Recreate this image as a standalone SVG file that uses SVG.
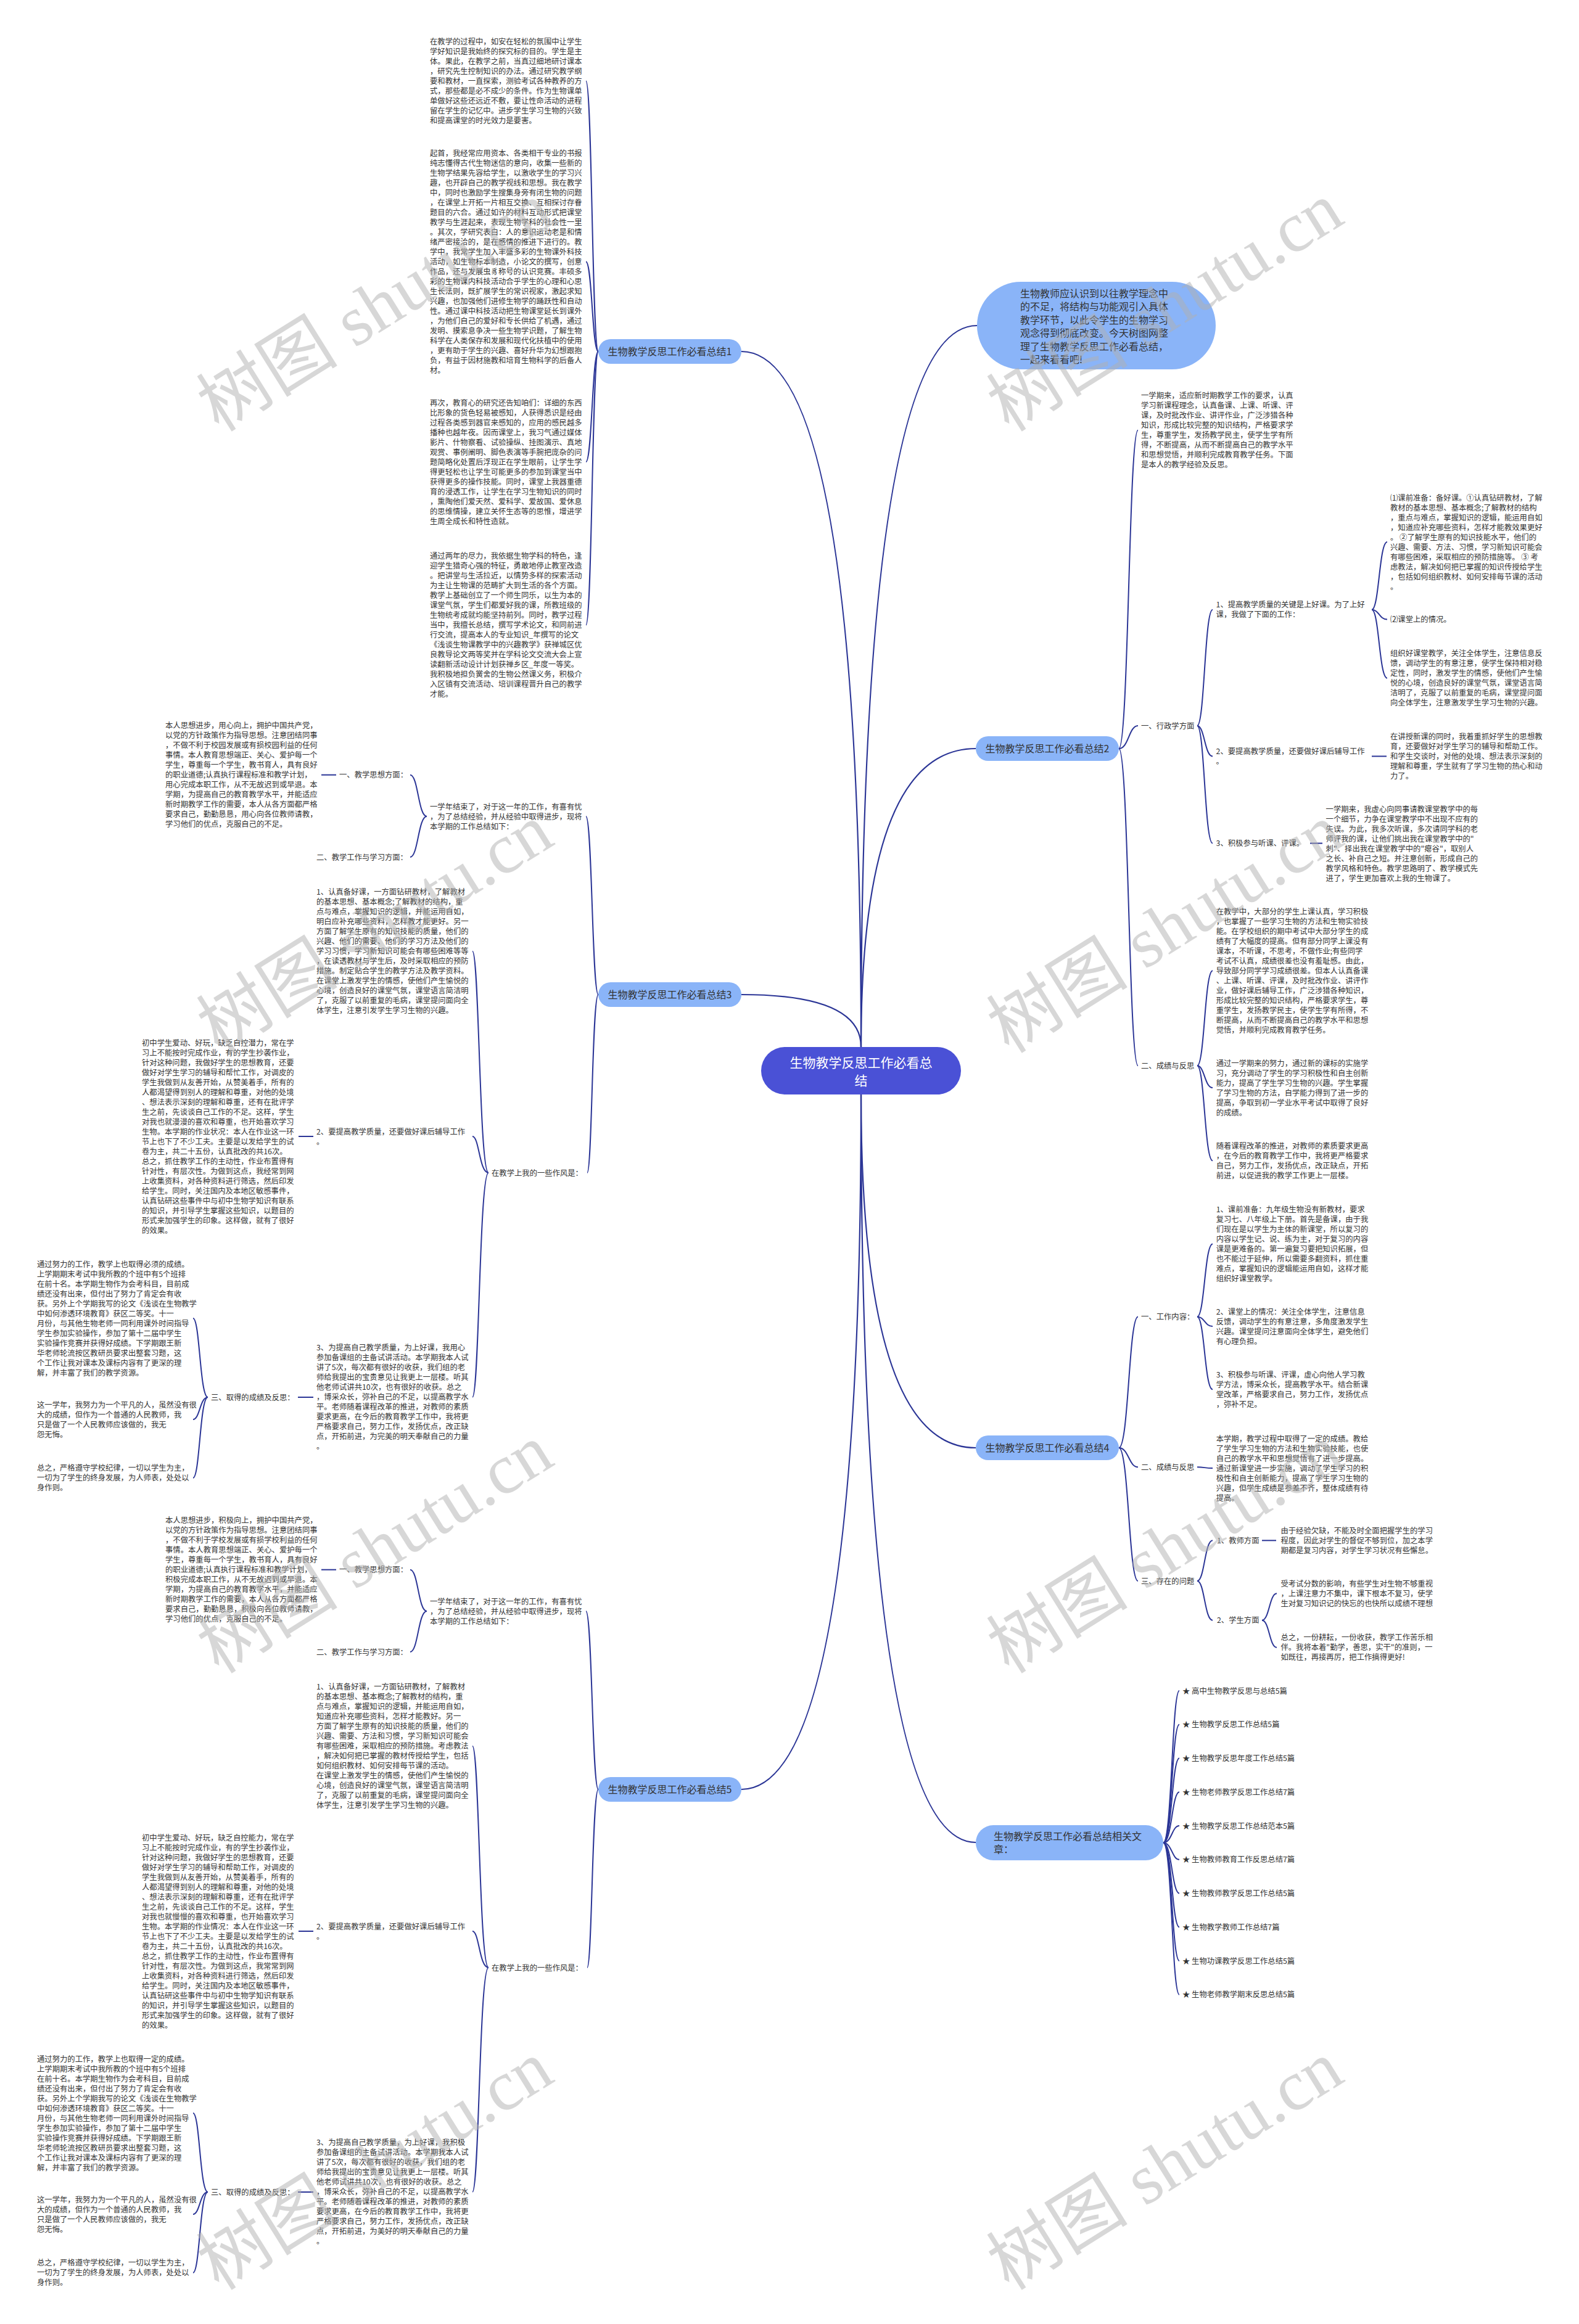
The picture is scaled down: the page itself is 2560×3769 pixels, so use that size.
<svg xmlns="http://www.w3.org/2000/svg" width="2560" height="3769" viewBox="0 0 2560 3769">
<style>
.t{font-family:"Noto Sans CJK SC","Liberation Sans",sans-serif;font-size:12.33px;fill:#333}
.c{fill:none;stroke:#2b3596;stroke-width:2}
.cm{fill:none;stroke:#2b3596;stroke-width:2.2}
.bn{fill:#8ab4f8}
.bt{font-family:"Noto Sans CJK SC","Liberation Sans",sans-serif;font-size:16px;fill:#333}
.ct{font-family:"Noto Sans CJK SC","Liberation Sans",sans-serif;font-size:21px;fill:#fff}
.wm{font-family:"Liberation Serif","Noto Sans CJK SC",serif;font-size:115px;fill:#b0b0b0;fill-opacity:0.5}
</style>
<rect width="2560" height="3769" fill="#fff"/>
<g id="connectors">
<path class="cm" d="M1396,1698 Q1396,570 1202,570"/>
<path class="cm" d="M1396,1698 Q1396,1613 1202,1613"/>
<path class="cm" d="M1396,1698 Q1396,528 1584,528"/>
<path class="cm" d="M1396,1698 Q1396,1214 1582,1214"/>
<path class="cm" d="M1396,1775 Q1396,2348 1582,2348"/>
<path class="cm" d="M1396,1775 Q1396,2902 1202,2902"/>
<path class="cm" d="M1396,1775 Q1396,2988 1582,2988"/>
<path class="c" d="M970,570 C960,570 960,131.5 950,131.5"/>
<path class="c" d="M970,570 C960,570 960,424.5 950,424.5"/>
<path class="c" d="M970,570 C960,570 960,749 950,749"/>
<path class="c" d="M970,570 C960,570 960,1013.4 950,1013.4"/>
<g id="c-b3">
<path class="c" d="M970,1613 C960,1613 960,1324 950,1324"/>
<path class="c" d="M970,1613 C960,1613 960,1902 952,1902"/>
<path class="c" d="M692,1324 C678,1324 678,1256.7 665,1256.7"/>
<path class="c" d="M692,1324 C678,1324 678,1390 665,1390"/>
<path class="c" d="M545,1256.7 L521,1256.7"/>
<path class="c" d="M792,1902 C777,1902 777,1542.7 766,1542.7"/>
<path class="c" d="M792,1902 C777,1902 777,1843 766,1843"/>
<path class="c" d="M792,1902 C777,1902 777,2265.7 766,2265.7"/>
<path class="c" d="M508,1843 L484,1843"/>
<path class="c" d="M508,2266 L483,2266"/>
<path class="c" d="M337,2266 C324,2266 324,2138 313,2138"/>
<path class="c" d="M337,2266 C324,2266 324,2302 313,2302"/>
<path class="c" d="M337,2266 C324,2266 324,2396.7 313,2396.7"/>
</g>
<g id="c-b5" transform="translate(0,1289)">
<path class="c" d="M970,1613 C960,1613 960,1324 950,1324"/>
<path class="c" d="M970,1613 C960,1613 960,1902 952,1902"/>
<path class="c" d="M692,1324 C678,1324 678,1256.7 665,1256.7"/>
<path class="c" d="M692,1324 C678,1324 678,1390 665,1390"/>
<path class="c" d="M545,1256.7 L521,1256.7"/>
<path class="c" d="M792,1902 C777,1902 777,1542.7 766,1542.7"/>
<path class="c" d="M792,1902 C777,1902 777,1843 766,1843"/>
<path class="c" d="M792,1902 C777,1902 777,2265.7 766,2265.7"/>
<path class="c" d="M508,1843 L484,1843"/>
<path class="c" d="M508,2266 L483,2266"/>
<path class="c" d="M337,2266 C324,2266 324,2138 313,2138"/>
<path class="c" d="M337,2266 C324,2266 324,2302 313,2302"/>
<path class="c" d="M337,2266 C324,2266 324,2396.7 313,2396.7"/>
</g>
<path class="c" d="M1814,1214 C1830,1214 1830,697.7 1845,697.7"/>
<path class="c" d="M1814,1214 C1830,1214 1830,1177 1845,1177"/>
<path class="c" d="M1814,1214 C1830,1214 1830,1728.3 1845,1728.3"/>
<path class="c" d="M1941,1177 C1953,1177 1953,988.8 1966,988.8"/>
<path class="c" d="M1941,1177 C1953,1177 1953,1226.5 1966,1226.5"/>
<path class="c" d="M1941,1177 C1953,1177 1953,1367.6 1966,1367.6"/>
<path class="c" d="M2224,988.8 C2236,988.8 2236,879 2249,879"/>
<path class="c" d="M2224,988.8 C2236,988.8 2236,1004.6 2249,1004.6"/>
<path class="c" d="M2224,988.8 C2236,988.8 2236,1099.7 2249,1099.7"/>
<path class="c" d="M2224,1226.5 L2248,1226.5"/>
<path class="c" d="M2124,1367.6 L2144,1367.6"/>
<path class="c" d="M1941,1728.3 C1953,1728.3 1953,1574.3 1966,1574.3"/>
<path class="c" d="M1941,1728.3 C1953,1728.3 1953,1764 1966,1764"/>
<path class="c" d="M1941,1728.3 C1953,1728.3 1953,1882.3 1966,1882.3"/>
<path class="c" d="M1814,2348 C1830,2348 1830,2135.4 1845,2135.4"/>
<path class="c" d="M1814,2348 C1830,2348 1830,2379.3 1845,2379.3"/>
<path class="c" d="M1814,2348 C1830,2348 1830,2564 1845,2564"/>
<path class="c" d="M1941,2135.4 C1953,2135.4 1953,2017.4 1966,2017.4"/>
<path class="c" d="M1941,2135.4 C1953,2135.4 1953,2151 1966,2151"/>
<path class="c" d="M1941,2135.4 C1953,2135.4 1953,2253.3 1966,2253.3"/>
<path class="c" d="M1941,2379.3 C1953,2379.3 1953,2381 1966,2381"/>
<path class="c" d="M1941,2564 C1953,2564 1953,2498.3 1966,2498.3"/>
<path class="c" d="M1941,2564 C1953,2564 1953,2627.7 1966,2627.7"/>
<path class="c" d="M2046,2498.3 L2069,2498.3"/>
<path class="c" d="M2046,2627.7 C2058,2627.7 2058,2584.3 2070,2584.3"/>
<path class="c" d="M2046,2627.7 C2058,2627.7 2058,2671.7 2070,2671.7"/>
<path class="c" d="M1886,2988.5 C1900,2988.5 1900,2742 1912,2742"/>
<path class="c" d="M1886,2988.5 C1900,2988.5 1900,2796.8 1912,2796.8"/>
<path class="c" d="M1886,2988.5 C1900,2988.5 1900,2851.5 1912,2851.5"/>
<path class="c" d="M1886,2988.5 C1900,2988.5 1900,2906.3 1912,2906.3"/>
<path class="c" d="M1886,2988.5 C1900,2988.5 1900,2961 1912,2961"/>
<path class="c" d="M1886,2988.5 C1900,2988.5 1900,3015.8 1912,3015.8"/>
<path class="c" d="M1886,2988.5 C1900,2988.5 1900,3070.5 1912,3070.5"/>
<path class="c" d="M1886,2988.5 C1900,2988.5 1900,3125.3 1912,3125.3"/>
<path class="c" d="M1886,2988.5 C1900,2988.5 1900,3180 1912,3180"/>
<path class="c" d="M1886,2988.5 C1900,2988.5 1900,3234.8 1912,3234.8"/>
</g>

<g id="center"><rect x="1234" y="1698" width="324" height="77" rx="38.5" fill="#4a51d6"/><text class="ct" text-anchor="middle" x="1396" y="1731">生物教学反思工作必看总<tspan x="1396" dy="29">结</tspan></text></g>

<g id="intro"><rect x="1584" y="457" width="387" height="142" rx="71" fill="#8ab4f8"/><text class="bt" x="1654" y="482">生物教师应认识到以往教学理念中<tspan x="1654" dy="21.4">的不足，将结构与功能观引入具体</tspan><tspan x="1654" dy="21.4">教学环节，以此令学生的生物学习</tspan><tspan x="1654" dy="21.4">观念得到彻底改变。今天树图网整</tspan><tspan x="1654" dy="21.4">理了生物教学反思工作必看总结，</tspan><tspan x="1654" dy="21.4">一起来看看吧!</tspan></text></g>

<g id="b1"><rect class="bn" x="970" y="550" width="232" height="40" rx="20"/><text class="bt" text-anchor="middle" x="1086" y="576">生物教学反思工作必看总结1</text></g>
<g id="b2"><rect class="bn" x="1582" y="1194" width="232" height="40" rx="20"/><text class="bt" text-anchor="middle" x="1698" y="1220">生物教学反思工作必看总结2</text></g>
<g id="b3"><rect class="bn" x="970" y="1593" width="232" height="40" rx="20"/><text class="bt" text-anchor="middle" x="1086" y="1619">生物教学反思工作必看总结3</text></g>
<g id="b4"><rect class="bn" x="1582" y="2328" width="232" height="40" rx="20"/><text class="bt" text-anchor="middle" x="1698" y="2354">生物教学反思工作必看总结4</text></g>
<g id="b5"><rect class="bn" x="970" y="2882" width="232" height="40" rx="20"/><text class="bt" text-anchor="middle" x="1086" y="2908">生物教学反思工作必看总结5</text></g>
<g id="rel"><rect class="bn" x="1582" y="2960" width="304" height="57" rx="28.5"/><text class="bt" x="1611" y="2984">生物教学反思工作必看总结相关文<tspan x="1611" dy="21.4">章：</tspan></text></g>

<g id="b1-p1"><text class="t" x="697" y="72"><tspan x="697">在教学的过程中，如安在轻松的氛围中让学生</tspan><tspan x="697" dy="16">学好知识是我始终的探究标的目的。学生是主</tspan><tspan x="697" dy="16">体。果此，在教学之前，当真过细地研讨课本</tspan><tspan x="697" dy="16">，研究先生控制知识的办法。通过研究教学纲</tspan><tspan x="697" dy="16">要和教材，一直探索，测验考试各种教养的方</tspan><tspan x="697" dy="16">式，那些都是必不成少的条件。作为生物课单</tspan><tspan x="697" dy="16">单做好这些还远近不敷，要让性命活动的进程</tspan><tspan x="697" dy="16">留在学生的记忆中。进步学生学习生物的兴致</tspan><tspan x="697" dy="16">和提高课堂的时光效力是要害。</tspan></text></g>
<g id="b1-p2"><text class="t" x="697" y="253"><tspan x="697">起首，我经常应用资本、各类相干专业的书报</tspan><tspan x="697" dy="16">纯志懂得古代生物迷信的意向，收集一些新的</tspan><tspan x="697" dy="16">生物学结果先容给学生，以激收学生的学习兴</tspan><tspan x="697" dy="16">趣，也开辟自己的教学视线和思想。我在教学</tspan><tspan x="697" dy="16">中，同时也激励学生搜集身旁有闭生物的问题</tspan><tspan x="697" dy="16">，在课堂上开拓一片相互交换、互相探讨存眷</tspan><tspan x="697" dy="16">题目的六合。通过如许的材料互动形式把课堂</tspan><tspan x="697" dy="16">教学与生涯起来，表现生物学科的社会性一里</tspan><tspan x="697" dy="16">。其次，学研究表白：人的意识运动老是和情</tspan><tspan x="697" dy="16">绪严密接洽的，是在感情的推进下进行的。教</tspan><tspan x="697" dy="16">学中，我常学生加入丰盛多彩的生物课外科技</tspan><tspan x="697" dy="16">活动，如生物标本制造，小论文的撰写，创意</tspan><tspan x="697" dy="16">作品，还与发展虫豸称号的认识竞赛。丰硕多</tspan><tspan x="697" dy="16">彩的生物课内科技活动合乎学生的心理和心思</tspan><tspan x="697" dy="16">生长法则，既扩展学生的常识视家，激起求知</tspan><tspan x="697" dy="16">兴趣，也加强他们进修生物学的踊跃性和自动</tspan><tspan x="697" dy="16">性。通过课中科技活动把生物课堂延长到课外</tspan><tspan x="697" dy="16">，为他们自己的爱好和专长供给了机遇，通过</tspan><tspan x="697" dy="16">发明、摸索息争决一些生物学识题，了解生物</tspan><tspan x="697" dy="16">科学在人类保存和发展和现代化扶植中的使用</tspan><tspan x="697" dy="16">，更有助于学生的兴趣、喜好升华为幻想跟抱</tspan><tspan x="697" dy="16">负，有益于因材施教和培育生物科学的后备人</tspan><tspan x="697" dy="16">材。</tspan></text></g>
<g id="b1-p3"><text class="t" x="697" y="657.5"><tspan x="697">再次，教育心的研究还告知咱们：详细的东西</tspan><tspan x="697" dy="16">比形象的货色轻易被感知，人获得悉识是经由</tspan><tspan x="697" dy="16">过程各类感到器官来感知的，应用的感民越多</tspan><tspan x="697" dy="16">播种也越年夜。因而课堂上，我习气通过媒体</tspan><tspan x="697" dy="16">影片、什物察看、试验操纵、挂图演示、真地</tspan><tspan x="697" dy="16">观赏、事例阐明、脚色表演等手腕把庞杂的问</tspan><tspan x="697" dy="16">题简略化处置后浮现正在学生眼前，让学生学</tspan><tspan x="697" dy="16">得更轻松也让学生可能更多的参加到课堂当中</tspan><tspan x="697" dy="16">获得更多的操作技能。同时，课堂上我器重德</tspan><tspan x="697" dy="16">育的浸透工作，让学生在学习生物知识的同时</tspan><tspan x="697" dy="16">，熏陶他们爱天然、爱科学、爱故国、爱休息</tspan><tspan x="697" dy="16">的思维情操，建立关怀生态等的思惟，增进学</tspan><tspan x="697" dy="16">生周全成长和特性造就。</tspan></text></g>
<g id="b1-p4"><text class="t" x="697" y="906"><tspan x="697">通过两年的尽力，我依据生物学科的特色，逢</tspan><tspan x="697" dy="16">迎学生猎奇心强的特征，勇敢地停止教室改造</tspan><tspan x="697" dy="16">。把讲堂与生活拉近，以情势多样的探索活动</tspan><tspan x="697" dy="16">为主让生物课的范畴扩大到生活的各个方面。</tspan><tspan x="697" dy="16">教学上基础创立了一个师生同乐，以生为本的</tspan><tspan x="697" dy="16">课堂气氛，学生们都爱好我的课，所教班级的</tspan><tspan x="697" dy="16">生物统考成就均能坚持前列。同时，教学过程</tspan><tspan x="697" dy="16">当中，我擅长总结，撰写学术论文，和同前进</tspan><tspan x="697" dy="16">行交流，提高本人的专业知识_年撰写的论文</tspan><tspan x="697" dy="16">《浅谈生物课教学中的兴趣教学》获禅城区优</tspan><tspan x="697" dy="16">良教导论文两等奖并在学科论文交流大会上宣</tspan><tspan x="697" dy="16">读翻新活动设计计划获禅乡区_年度一等奖。</tspan><tspan x="697" dy="16">我积极地担负黉舍的生物公然课义务，积极介</tspan><tspan x="697" dy="16">入区镇有交流活动、培训课程晋升自己的教学</tspan><tspan x="697" dy="16">才能。</tspan></text></g>

<g id="b3-sub">
<g id="b3-a"><text class="t" x="697" y="1312.5"><tspan x="697">一学年结束了，对于这一年的工作，有喜有忧</tspan><tspan x="697" dy="16">，为了总结经验，并从经验中取得进步，现将</tspan><tspan x="697" dy="16">本学期的工作总结如下：</tspan></text></g>
<g id="b3-a1"><text class="t" x="550" y="1261">一、教学思想方面：</text></g>
<g id="b3-a2"><text class="t" x="513" y="1394.5">二、教学工作与学习方面：</text></g>
<g id="b3-a1a"><text class="t" x="268" y="1181"><tspan x="268">本人思想进步，用心向上，拥护中国共产党，</tspan><tspan x="268" dy="16">以党的方针政策作为指导思想。注意团结同事</tspan><tspan x="268" dy="16">，不做不利于校园发展或有损校园利益的任何</tspan><tspan x="268" dy="16">事情。本人教育思想端正、关心、爱护每一个</tspan><tspan x="268" dy="16">学生，尊重每一个学生，教书育人，具有良好</tspan><tspan x="268" dy="16">的职业道德;认真执行课程标准和教学计划，</tspan><tspan x="268" dy="16">用心完成本职工作，从不无故迟到或早退。本</tspan><tspan x="268" dy="16">学期，为提高自己的教育教学水平，并能适应</tspan><tspan x="268" dy="16">新时期教学工作的需要，本人从各方面都严格</tspan><tspan x="268" dy="16">要求自己，勤勤恳恳，用心向各位教师请教，</tspan><tspan x="268" dy="16">学习他们的优点，克服自己的不足。</tspan></text></g>
<g id="b3-b"><text class="t" x="797" y="1906.5">在教学上我的一些作风是：</text></g>
<g id="b3-b1"><text class="t" x="513" y="1451"><tspan x="513">1、认真备好课，一方面钻研教材，了解教材</tspan><tspan x="513" dy="16">的基本思想、基本概念;了解教材的结构，重</tspan><tspan x="513" dy="16">点与难点，掌握知识的逻辑，并能运用自如，</tspan><tspan x="513" dy="16">明白应补充哪些资料，怎样教才能更好。另一</tspan><tspan x="513" dy="16">方面了解学生原有的知识技能的质量，他们的</tspan><tspan x="513" dy="16">兴趣、他们的需要、他们的学习方法及他们的</tspan><tspan x="513" dy="16">学习习惯，学习新知识可能会有哪些困难等等</tspan><tspan x="513" dy="16">，在读透教材与学生后，及时采取相应的预防</tspan><tspan x="513" dy="16">措施。制定贴合学生的教学方法及教学资料。</tspan><tspan x="513" dy="16">在课堂上激发学生的情感，使他们产生愉悦的</tspan><tspan x="513" dy="16">心境，创造良好的课堂气氛，课堂语言简洁明</tspan><tspan x="513" dy="16">了，克服了以前重复的毛病，课堂提问面向全</tspan><tspan x="513" dy="16">体学生，注意引发学生学习生物的兴趣。</tspan></text></g>
<g id="b3-b2"><text class="t" x="513" y="1839.5"><tspan x="513">2、要提高教学质量，还要做好课后辅导工作</tspan><tspan x="513" dy="16">。</tspan></text></g>
<g id="b3-b2a"><text class="t" x="230" y="1696"><tspan x="230">初中学生爱动、好玩，缺乏自控潜力，常在学</tspan><tspan x="230" dy="16">习上不能按时完成作业，有的学生抄袭作业，</tspan><tspan x="230" dy="16">针对这种问题，我做好学生的思想教育，还要</tspan><tspan x="230" dy="16">做好对学生学习的辅导和帮忙工作，对调皮的</tspan><tspan x="230" dy="16">学生我做到从友善开始，从赞美着手，所有的</tspan><tspan x="230" dy="16">人都渴望得到别人的理解和尊重，对他的处境</tspan><tspan x="230" dy="16">、想法表示深刻的理解和尊重，还有在批评学</tspan><tspan x="230" dy="16">生之前，先谈谈自己工作的不足。这样，学生</tspan><tspan x="230" dy="16">对我也就漫漫的喜欢和尊重，也开始喜欢学习</tspan><tspan x="230" dy="16">生物。本学期的作业状况：本人在作业这一环</tspan><tspan x="230" dy="16">节上也下了不少工夫。主要是以发给学生的试</tspan><tspan x="230" dy="16">卷为主，共二十五份，认真批改的共16次。</tspan><tspan x="230" dy="16">总之，抓住教学工作的主动性，作业布置得有</tspan><tspan x="230" dy="16">针对性，有层次性。为做到这点，我经常到网</tspan><tspan x="230" dy="16">上收集资料，对各种资料进行筛选，然后印发</tspan><tspan x="230" dy="16">给学生。同时，关注国内及本地区敏感事件，</tspan><tspan x="230" dy="16">认真钻研这些事件中与初中生物学知识有联系</tspan><tspan x="230" dy="16">的知识，并引导学生掌握这些知识，以题目的</tspan><tspan x="230" dy="16">形式来加强学生的印象。这样做，就有了很好</tspan><tspan x="230" dy="16">的效果。</tspan></text></g>
<g id="b3-b3"><text class="t" x="513" y="2190"><tspan x="513">3、为提高自己教学质量，为上好课，我用心</tspan><tspan x="513" dy="16">参加备课组的主备试讲活动。本学期我本人试</tspan><tspan x="513" dy="16">讲了5次，每次都有很好的收获，我们组的老</tspan><tspan x="513" dy="16">师给我提出的宝贵意见让我更上一层楼。听其</tspan><tspan x="513" dy="16">他老师试讲共10次，也有很好的收获。总之</tspan><tspan x="513" dy="16">，博采众长，弥补自己的不足，以提高教学水</tspan><tspan x="513" dy="16">平。老师随着课程改革的推进，对教师的素质</tspan><tspan x="513" dy="16">要求更高，在今后的教育教学工作中，我将更</tspan><tspan x="513" dy="16">严格要求自己，努力工作，发扬优点，改正缺</tspan><tspan x="513" dy="16">点，开拓前进，为完美的明天奉献自己的力量</tspan><tspan x="513" dy="16">。</tspan></text></g>
<g id="b3-b3a"><text class="t" x="342" y="2270.5">三、取得的成绩及反思：</text></g>
<g id="b3-b3a1"><text class="t" x="60" y="2054.5"><tspan x="60">通过努力的工作，教学上也取得必须的成绩。</tspan><tspan x="60" dy="16">上学期期末考试中我所教的个班中有5个班排</tspan><tspan x="60" dy="16">在前十名。本学期生物作为会考科目，目前成</tspan><tspan x="60" dy="16">绩还没有出来，但付出了努力了肯定会有收</tspan><tspan x="60" dy="16">获。另外上个学期我写的论文《浅谈在生物教学</tspan><tspan x="60" dy="16">中如何渗透环境教育》获区二等奖。十一</tspan><tspan x="60" dy="16">月份，与其他生物老师一同利用课外时间指导</tspan><tspan x="60" dy="16">学生参加实验操作，参加了第十二届中学生</tspan><tspan x="60" dy="16">实验操作竞赛并获得好成绩。下学期跟王新</tspan><tspan x="60" dy="16">华老师轮流按区教研员要求出整套习题，这</tspan><tspan x="60" dy="16">个工作让我对课本及课标内容有了更深的理</tspan><tspan x="60" dy="16">解，并丰富了我们的教学资源。</tspan></text></g>
<g id="b3-b3a2"><text class="t" x="60" y="2282.5"><tspan x="60">这一学年，我努力为一个平凡的人，虽然没有很</tspan><tspan x="60" dy="16">大的成绩，但作为一个普通的人民教师，我</tspan><tspan x="60" dy="16">只是做了一个人民教师应该做的，我无</tspan><tspan x="60" dy="16">怨无悔。</tspan></text></g>
<g id="b3-b3a3"><text class="t" x="60" y="2385"><tspan x="60">总之，严格遵守学校纪律，一切以学生为主，</tspan><tspan x="60" dy="16">一切为了学生的终身发展，为人师表，处处以</tspan><tspan x="60" dy="16">身作则。</tspan></text></g>
</g>

<g id="b5-sub" transform="translate(0,1289)">
<g id="b5-a"><text class="t" x="697" y="1312.5"><tspan x="697">一学年结束了，对于这一年的工作，有喜有忧</tspan><tspan x="697" dy="16">，为了总结经验，并从经验中取得进步，现将</tspan><tspan x="697" dy="16">本学期的工作总结如下：</tspan></text></g>
<g id="b5-a1"><text class="t" x="550" y="1261">一、教学思想方面：</text></g>
<g id="b5-a2"><text class="t" x="513" y="1394.5">二、教学工作与学习方面：</text></g>
<g id="b5-a1a"><text class="t" x="268" y="1181"><tspan x="268">本人思想进步，积极向上，拥护中国共产党，</tspan><tspan x="268" dy="16">以党的方针政策作为指导思想。注意团结同事</tspan><tspan x="268" dy="16">，不做不利于学校发展或有损学校利益的任何</tspan><tspan x="268" dy="16">事情。本人教育思想端正、关心、爱护每一个</tspan><tspan x="268" dy="16">学生，尊重每一个学生，教书育人，具有良好</tspan><tspan x="268" dy="16">的职业道德;认真执行课程标准和教学计划，</tspan><tspan x="268" dy="16">积极完成本职工作，从不无故迟到或早退。本</tspan><tspan x="268" dy="16">学期，为提高自己的教育教学水平，并能适应</tspan><tspan x="268" dy="16">新时期教学工作的需要，本人从各方面都严格</tspan><tspan x="268" dy="16">要求自己，勤勤恳恳，积极向各位教师请教，</tspan><tspan x="268" dy="16">学习他们的优点，克服自己的不足。</tspan></text></g>
<g id="b5-b"><text class="t" x="797" y="1906.5">在教学上我的一些作风是：</text></g>
<g id="b5-b1"><text class="t" x="513" y="1451"><tspan x="513">1、认真备好课，一方面钻研教材，了解教材</tspan><tspan x="513" dy="16">的基本思想、基本概念;了解教材的结构，重</tspan><tspan x="513" dy="16">点与难点，掌握知识的逻辑，并能运用自如，</tspan><tspan x="513" dy="16">知道应补充哪些资料，怎样才能教好。另一</tspan><tspan x="513" dy="16">方面了解学生原有的知识技能的质量，他们的</tspan><tspan x="513" dy="16">兴趣、需要、方法和习惯，学习新知识可能会</tspan><tspan x="513" dy="16">有哪些困难，采取相应的预防措施。考虑教法</tspan><tspan x="513" dy="16">，解决如何把已掌握的教材传授给学生，包括</tspan><tspan x="513" dy="16">如何组织教材、如何安排每节课的活动。</tspan><tspan x="513" dy="16">在课堂上激发学生的情感，使他们产生愉悦的</tspan><tspan x="513" dy="16">心境，创造良好的课堂气氛，课堂语言简洁明</tspan><tspan x="513" dy="16">了，克服了以前重复的毛病，课堂提问面向全</tspan><tspan x="513" dy="16">体学生，注意引发学生学习生物的兴趣。</tspan></text></g>
<g id="b5-b2"><text class="t" x="513" y="1839.5"><tspan x="513">2、要提高教学质量，还要做好课后辅导工作</tspan><tspan x="513" dy="16">。</tspan></text></g>
<g id="b5-b2a"><text class="t" x="230" y="1696"><tspan x="230">初中学生爱动、好玩，缺乏自控能力，常在学</tspan><tspan x="230" dy="16">习上不能按时完成作业，有的学生抄袭作业，</tspan><tspan x="230" dy="16">针对这种问题，我做好学生的思想教育，还要</tspan><tspan x="230" dy="16">做好对学生学习的辅导和帮助工作，对调皮的</tspan><tspan x="230" dy="16">学生我做到从友善开始，从赞美着手，所有的</tspan><tspan x="230" dy="16">人都渴望得到别人的理解和尊重，对他的处境</tspan><tspan x="230" dy="16">、想法表示深刻的理解和尊重，还有在批评学</tspan><tspan x="230" dy="16">生之前，先谈谈自己工作的不足。这样，学生</tspan><tspan x="230" dy="16">对我也就慢慢的喜欢和尊重，也开始喜欢学习</tspan><tspan x="230" dy="16">生物。本学期的作业情况：本人在作业这一环</tspan><tspan x="230" dy="16">节上也下了不少工夫。主要是以发给学生的试</tspan><tspan x="230" dy="16">卷为主，共二十五份，认真批改的共16次。</tspan><tspan x="230" dy="16">总之，抓住教学工作的主动性，作业布置得有</tspan><tspan x="230" dy="16">针对性，有层次性。为做到这点，我常常到网</tspan><tspan x="230" dy="16">上收集资料，对各种资料进行筛选，然后印发</tspan><tspan x="230" dy="16">给学生。同时，关注国内及本地区敏感事件，</tspan><tspan x="230" dy="16">认真钻研这些事件中与初中生物学知识有联系</tspan><tspan x="230" dy="16">的知识，并引导学生掌握这些知识，以题目的</tspan><tspan x="230" dy="16">形式来加强学生的印象。这样做，就有了很好</tspan><tspan x="230" dy="16">的效果。</tspan></text></g>
<g id="b5-b3"><text class="t" x="513" y="2190"><tspan x="513">3、为提高自己教学质量，为上好课，我积极</tspan><tspan x="513" dy="16">参加备课组的主备试讲活动。本学期我本人试</tspan><tspan x="513" dy="16">讲了5次，每次都有很好的收获，我们组的老</tspan><tspan x="513" dy="16">师给我提出的宝贵意见让我更上一层楼。听其</tspan><tspan x="513" dy="16">他老师试讲共10次，也有很好的收获。总之</tspan><tspan x="513" dy="16">，博采众长，弥补自己的不足，以提高教学水</tspan><tspan x="513" dy="16">平。老师随着课程改革的推进，对教师的素质</tspan><tspan x="513" dy="16">要求更高，在今后的教育教学工作中，我将更</tspan><tspan x="513" dy="16">严格要求自己，努力工作，发扬优点，改正缺</tspan><tspan x="513" dy="16">点，开拓前进，为美好的明天奉献自己的力量</tspan><tspan x="513" dy="16">。</tspan></text></g>
<g id="b5-b3a"><text class="t" x="342" y="2270.5">三、取得的成绩及反思：</text></g>
<g id="b5-b3a1"><text class="t" x="60" y="2054.5"><tspan x="60">通过努力的工作，教学上也取得一定的成绩。</tspan><tspan x="60" dy="16">上学期期末考试中我所教的个班中有5个班排</tspan><tspan x="60" dy="16">在前十名。本学期生物作为会考科目，目前成</tspan><tspan x="60" dy="16">绩还没有出来，但付出了努力了肯定会有收</tspan><tspan x="60" dy="16">获。另外上个学期我写的论文《浅谈在生物教学</tspan><tspan x="60" dy="16">中如何渗透环境教育》获区二等奖。十一</tspan><tspan x="60" dy="16">月份，与其他生物老师一同利用课外时间指导</tspan><tspan x="60" dy="16">学生参加实验操作，参加了第十二届中学生</tspan><tspan x="60" dy="16">实验操作竞赛并获得好成绩。下学期跟王新</tspan><tspan x="60" dy="16">华老师轮流按区教研员要求出整套习题，这</tspan><tspan x="60" dy="16">个工作让我对课本及课标内容有了更深的理</tspan><tspan x="60" dy="16">解，并丰富了我们的教学资源。</tspan></text></g>
<g id="b5-b3a2"><text class="t" x="60" y="2282.5"><tspan x="60">这一学年，我努力为一个平凡的人，虽然没有很</tspan><tspan x="60" dy="16">大的成绩，但作为一个普通的人民教师，我</tspan><tspan x="60" dy="16">只是做了一个人民教师应该做的，我无</tspan><tspan x="60" dy="16">怨无悔。</tspan></text></g>
<g id="b5-b3a3"><text class="t" x="60" y="2385"><tspan x="60">总之，严格遵守学校纪律，一切以学生为主，</tspan><tspan x="60" dy="16">一切为了学生的终身发展，为人师表，处处以</tspan><tspan x="60" dy="16">身作则。</tspan></text></g>
</g>

<g id="b2-a"><text class="t" x="1850" y="646"><tspan x="1850">一学期来，适应新时期教学工作的要求，认真</tspan><tspan x="1850" dy="16">学习新课程理念，认真备课、上课、听课、评</tspan><tspan x="1850" dy="16">课，及时批改作业、讲评作业，广泛涉猎各种</tspan><tspan x="1850" dy="16">知识，形成比较完整的知识结构，严格要求学</tspan><tspan x="1850" dy="16">生，尊重学生，发扬教学民主，使学生学有所</tspan><tspan x="1850" dy="16">得，不断提高，从而不断提高自己的教学水平</tspan><tspan x="1850" dy="16">和思想觉悟，并顺利完成教育教学任务。下面</tspan><tspan x="1850" dy="16">是本人的教学经验及反思。</tspan></text></g>
<g id="b2-b"><text class="t" x="1850" y="1181.5">一、行政学方面</text></g>
<g id="b2-b1"><text class="t" x="1971.6" y="985.3"><tspan x="1971.6">1、提高教学质量的关键是上好课。为了上好</tspan><tspan x="1971.6" dy="16">课，我做了下面的工作：</tspan></text></g>
<g id="b2-b1a"><text class="t" x="2254" y="811.5"><tspan x="2254">⑴课前准备：备好课。①认真钻研教材，了解</tspan><tspan x="2254" dy="16">教材的基本思想、基本概念;了解教材的结构</tspan><tspan x="2254" dy="16">，重点与难点，掌握知识的逻辑，能运用自如</tspan><tspan x="2254" dy="16">，知道应补充哪些资料，怎样才能教效果更好</tspan><tspan x="2254" dy="16">。 ②了解学生原有的知识技能水平，他们的</tspan><tspan x="2254" dy="16">兴趣、需要、方法、习惯，学习新知识可能会</tspan><tspan x="2254" dy="16">有哪些困难，采取相应的预防措施等。 ③ 考</tspan><tspan x="2254" dy="16">虑教法，解决如何把已掌握的知识传授给学生</tspan><tspan x="2254" dy="16">，包括如何组织教材、如何安排每节课的活动</tspan><tspan x="2254" dy="16">。</tspan></text></g>
<g id="b2-b1b"><text class="t" x="2254" y="1009">⑵课堂上的情况。</text></g>
<g id="b2-b1c"><text class="t" x="2254" y="1064"><tspan x="2254">组织好课堂教学，关注全体学生，注意信息反</tspan><tspan x="2254" dy="16">馈，调动学生的有意注意，使学生保持相对稳</tspan><tspan x="2254" dy="16">定性，同时，激发学生的情感，使他们产生愉</tspan><tspan x="2254" dy="16">悦的心境，创造良好的课堂气氛，课堂语言简</tspan><tspan x="2254" dy="16">洁明了，克服了以前重复的毛病，课堂提问面</tspan><tspan x="2254" dy="16">向全体学生，注意激发学生学习生物的兴趣。</tspan></text></g>
<g id="b2-b2"><text class="t" x="1971.6" y="1223"><tspan x="1971.6">2、要提高教学质量，还要做好课后辅导工作</tspan><tspan x="1971.6" dy="16">。</tspan></text></g>
<g id="b2-b2a"><text class="t" x="2254" y="1198.5"><tspan x="2254">在讲授新课的同时，我着重抓好学生的思想教</tspan><tspan x="2254" dy="16">育，还要做好对学生学习的辅导和帮助工作。</tspan><tspan x="2254" dy="16">和学生交谈时，对他的处境、想法表示深刻的</tspan><tspan x="2254" dy="16">理解和尊重，学生就有了学习生物的热心和动</tspan><tspan x="2254" dy="16">力了。</tspan></text></g>
<g id="b2-b3"><text class="t" x="1971.6" y="1372">3、积极参与听课、评课。</text></g>
<g id="b2-b3a"><text class="t" x="2149.6" y="1317"><tspan x="2149.6">一学期来，我虚心向同事请教课堂教学中的每</tspan><tspan x="2149.6" dy="16">一个细节，力争在课堂教学中不出现不应有的</tspan><tspan x="2149.6" dy="16">失误。为此，我多次听课，多次请同学科的老</tspan><tspan x="2149.6" dy="16">师评我的课，让他们挑出我在课堂教学中的"</tspan><tspan x="2149.6" dy="16">刺"、择出我在课堂教学中的"瘪谷"，取别人</tspan><tspan x="2149.6" dy="16">之长、补自己之短。并注意创新，形成自己的</tspan><tspan x="2149.6" dy="16">教学风格和特色。教学思路明了、教学模式先</tspan><tspan x="2149.6" dy="16">进了，学生更加喜欢上我的生物课了。</tspan></text></g>
<g id="b2-c"><text class="t" x="1850" y="1733">二、成绩与反思</text></g>
<g id="b2-c1"><text class="t" x="1971.7" y="1483"><tspan x="1971.7">在教学中，大部分的学生上课认真，学习积极</tspan><tspan x="1971.7" dy="16">，也掌握了一些学习生物的方法和生物实验技</tspan><tspan x="1971.7" dy="16">能。在学校组织的期中考试中大部分学生的成</tspan><tspan x="1971.7" dy="16">绩有了大幅度的提高。但有部分同学上课没有</tspan><tspan x="1971.7" dy="16">课本，不听课，不思考，不做作业;有些同学</tspan><tspan x="1971.7" dy="16">考试不认真，成绩很差也没有羞耻感。由此，</tspan><tspan x="1971.7" dy="16">导致部分同学学习成绩很差。但本人认真备课</tspan><tspan x="1971.7" dy="16">、上课、听课、评课，及时批改作业、讲评作</tspan><tspan x="1971.7" dy="16">业，做好课后辅导工作，广泛涉猎各种知识，</tspan><tspan x="1971.7" dy="16">形成比较完整的知识结构，严格要求学生，尊</tspan><tspan x="1971.7" dy="16">重学生，发扬教学民主，使学生学有所得，不</tspan><tspan x="1971.7" dy="16">断提高，从而不断提高自己的教学水平和思想</tspan><tspan x="1971.7" dy="16">觉悟，并顺利完成教育教学任务。</tspan></text></g>
<g id="b2-c2"><text class="t" x="1971.7" y="1728.5"><tspan x="1971.7">通过一学期来的努力，通过新的课标的实施学</tspan><tspan x="1971.7" dy="16">习，充分调动了学生的学习积极性和自主创新</tspan><tspan x="1971.7" dy="16">能力，提高了学生学习生物的兴趣。学生掌握</tspan><tspan x="1971.7" dy="16">了学习生物的方法，自学能力得到了进一步的</tspan><tspan x="1971.7" dy="16">提高，争取到初一学业水平考试中取得了良好</tspan><tspan x="1971.7" dy="16">的成绩。</tspan></text></g>
<g id="b2-c3"><text class="t" x="1971.7" y="1863"><tspan x="1971.7">随着课程改革的推进，对教师的素质要求更高</tspan><tspan x="1971.7" dy="16">，在今后的教育教学工作中，我将更严格要求</tspan><tspan x="1971.7" dy="16">自己，努力工作，发扬优点，改正缺点，开拓</tspan><tspan x="1971.7" dy="16">前进，以促进我的教学工作更上一层楼。</tspan></text></g>

<g id="b4-a"><text class="t" x="1850" y="2140">一、工作内容：</text></g>
<g id="b4-a1"><text class="t" x="1971.7" y="1966"><tspan x="1971.7">1、课前准备：九年级生物没有新教材，要求</tspan><tspan x="1971.7" dy="16">复习七、八年级上下册。首先是备课，由于我</tspan><tspan x="1971.7" dy="16">们现在是以学生为主体的新课堂，所以复习的</tspan><tspan x="1971.7" dy="16">内容以学生记、说、练为主，对于复习的内容</tspan><tspan x="1971.7" dy="16">课是更难备的。第一遍复习要把知识拓展，但</tspan><tspan x="1971.7" dy="16">也不能过于延伸，所以需要多翻资料，抓住重</tspan><tspan x="1971.7" dy="16">难点，掌握知识的逻辑能运用自如，这样才能</tspan><tspan x="1971.7" dy="16">组织好课堂教学。</tspan></text></g>
<g id="b4-a2"><text class="t" x="1971.7" y="2131.5"><tspan x="1971.7">2、课堂上的情况：关注全体学生，注意信息</tspan><tspan x="1971.7" dy="16">反馈，调动学生的有意注意，多角度激发学生</tspan><tspan x="1971.7" dy="16">兴趣。课堂提问注意面向全体学生，避免他们</tspan><tspan x="1971.7" dy="16">有心理负担。</tspan></text></g>
<g id="b4-a3"><text class="t" x="1971.7" y="2234"><tspan x="1971.7">3、积极参与听课、评课，虚心向他人学习教</tspan><tspan x="1971.7" dy="16">学方法，博采众长，提高教学水平。结合新课</tspan><tspan x="1971.7" dy="16">堂改革，严格要求自己，努力工作，发扬优点</tspan><tspan x="1971.7" dy="16">，弥补不足。</tspan></text></g>
<g id="b4-b"><text class="t" x="1850" y="2384">二、成绩与反思</text></g>
<g id="b4-b1"><text class="t" x="1971.7" y="2337.5"><tspan x="1971.7">本学期，教学过程中取得了一定的成绩。教给</tspan><tspan x="1971.7" dy="16">了学生学习生物的方法和生物实验技能，也使</tspan><tspan x="1971.7" dy="16">自己的教学水平和思想觉悟有了进一步提高。</tspan><tspan x="1971.7" dy="16">通过新课堂进一步实施，调动了学生学习的积</tspan><tspan x="1971.7" dy="16">极性和自主创新能力，提高了学生学习生物的</tspan><tspan x="1971.7" dy="16">兴趣，但学生成绩是参差不齐，整体成绩有待</tspan><tspan x="1971.7" dy="16">提高。</tspan></text></g>
<g id="b4-c"><text class="t" x="1850" y="2568.5">三、存在的问题</text></g>
<g id="b4-c1"><text class="t" x="1973" y="2503">1、教师方面</text></g>
<g id="b4-c1a"><text class="t" x="2076.4" y="2487"><tspan x="2076.4">由于经验欠缺，不能及时全面把握学生的学习</tspan><tspan x="2076.4" dy="16">程度，因此对学生的督促不够到位，加之本学</tspan><tspan x="2076.4" dy="16">期都是复习内容，对学生学习状况有些懈怠。</tspan></text></g>
<g id="b4-c2"><text class="t" x="1973" y="2632">2、学生方面</text></g>
<g id="b4-c2a"><text class="t" x="2076.4" y="2573"><tspan x="2076.4">受考试分数的影响，有些学生对生物不够重视</tspan><tspan x="2076.4" dy="16">，上课注意力不集中，课下根本不复习，使学</tspan><tspan x="2076.4" dy="16">生对复习知识记的快忘的也快所以成绩不理想</tspan></text></g>
<g id="b4-c2b"><text class="t" x="2076.4" y="2660"><tspan x="2076.4">总之，一份耕耘，一份收获，教学工作苦乐相</tspan><tspan x="2076.4" dy="16">伴。我将本着"勤学，善思，实干"的准则，一</tspan><tspan x="2076.4" dy="16">如既往，再接再厉，把工作搞得更好!</tspan></text></g>

<g id="rel-items">
<text class="t" x="1917" y="2746.5">★ 高中生物教学反思与总结5篇</text>
<text class="t" x="1917" y="2801.3">★ 生物教学反思工作总结5篇</text>
<text class="t" x="1917" y="2856">★ 生物教学反思年度工作总结5篇</text>
<text class="t" x="1917" y="2910.8">★ 生物老师教学反思工作总结7篇</text>
<text class="t" x="1917" y="2965.5">★ 生物教学反思工作总结范本5篇</text>
<text class="t" x="1917" y="3020.3">★ 生物教师教育工作反思总结7篇</text>
<text class="t" x="1917" y="3075">★ 生物教师教学反思工作总结5篇</text>
<text class="t" x="1917" y="3129.8">★ 生物教学教师工作总结7篇</text>
<text class="t" x="1917" y="3184.5">★ 生物功课教学反思工作总结5篇</text>
<text class="t" x="1917" y="3239.3">★ 生物老师教学期末反思总结5篇</text>
</g>

<g id="watermarks">
<text class="wm" transform="translate(355,702) rotate(-32)">树图 shutu.cn</text>
<text class="wm" transform="translate(1636,702) rotate(-32)">树图 shutu.cn</text>
<text class="wm" transform="translate(355,1710) rotate(-32)">树图 shutu.cn</text>
<text class="wm" transform="translate(1636,1710) rotate(-32)">树图 shutu.cn</text>
<text class="wm" transform="translate(355,2716) rotate(-32)">树图 shutu.cn</text>
<text class="wm" transform="translate(1636,2716) rotate(-32)">树图 shutu.cn</text>
<text class="wm" transform="translate(355,3716) rotate(-32)">树图 shutu.cn</text>
<text class="wm" transform="translate(1636,3716) rotate(-32)">树图 shutu.cn</text>
</g>
</svg>
